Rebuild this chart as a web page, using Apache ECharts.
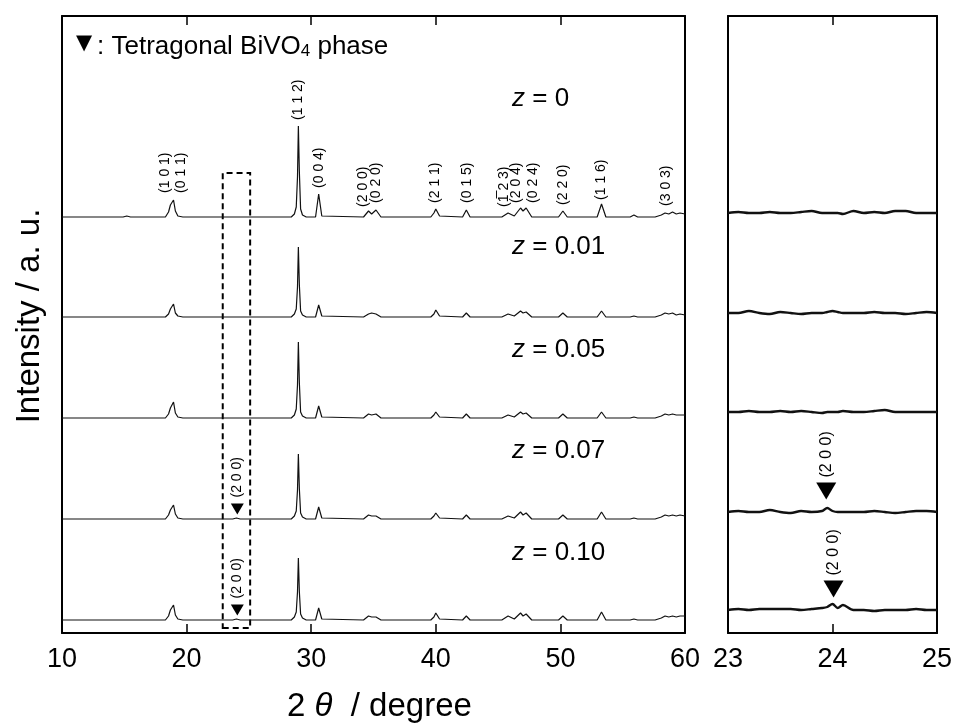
<!DOCTYPE html>
<html>
<head>
<meta charset="utf-8">
<script src="https://cdn.jsdelivr.net/npm/echarts@6/dist/echarts.min.js"></script>
<style>
  html, body { margin: 0; padding: 0; background: #fff; }
  #echarts { width: 957px; height: 727px; }
</style>
</head>
<body>
<div id="echarts"></div>
<script type="text/javascript">
// 2theta positions (deg) shared by the five wide-range patterns
var twoTheta = [10, 14.9, 15.2, 15.5, 18.3, 18.55, 18.7, 18.95, 19.1, 19.3,
  19.7, 23.7, 24.0, 24.3, 28.4, 28.65, 28.8, 28.9, 28.97, 29.05,
  29.15, 29.3, 29.6, 30.35, 30.6, 30.85, 34.2, 34.6, 34.85, 35.2,
  35.6, 39.6, 39.85, 40.0, 40.3, 42.15, 42.45, 42.75, 45.3, 45.8,
  46.3, 46.8, 47.0, 47.25, 47.7, 49.85, 50.2, 50.55, 52.95, 53.3,
  53.65, 55.6, 55.9, 56.2, 57.6, 58.1, 58.4, 58.7, 59.0, 59.3,
  59.6, 60.0];

// intensities (a.u.)
var int_z000 = [0, 0, 1, 0, 0, 5, 12, 17, 6, 1,
  0, 0, 0, 0, 0, 3, 10, 40, 91, 45,
  8, 2, 0, 0, 23, 1, 0, 6, 3, 7,
  0, 0, 4, 8, 1, 0, 7, 0, 0, 4,
  1, 9, 6, 9, 0, 0, 6, 0, 0, 13,
  0, 0, 2, 0, 0, 2, 4, 3, 5, 3,
  4, 3];
var int_z001 = [0, 0, 0, 0, 0, 3, 8, 13, 4, 1,
  0, 0, 0, 0, 0, 3, 8, 30, 70, 32,
  6, 2, 0, 0, 12, 1, 0, 3, 4, 3,
  0, 0, 3, 7, 1, 0, 4, 0, 0, 3,
  1, 6, 4, 5, 0, 0, 4, 0, 0, 6,
  0, 0, 1, 0, 0, 2, 4, 3, 4, 2,
  3, 2];
var int_z005 = [0, 0, 0, 0, 0, 4, 10, 16, 5, 1,
  0, 0, 0, 0, 0, 3, 9, 33, 76, 35,
  6, 2, 0, 0, 12, 1, 0, 4, 3, 4,
  0, 0, 3, 6, 1, 0, 4, 0, 0, 3,
  1, 6, 4, 5, 0, 0, 4, 0, 0, 6,
  0, 0, 1, 0, 0, 2, 4, 3, 4, 3,
  3, 3];
var int_z007 = [0, 0, 0, 0, 0, 4, 9, 14, 5, 1,
  0, 0, 1, 0, 0, 3, 8, 29, 65, 30,
  6, 2, 0, 0, 12, 1, 0, 4, 3, 3,
  0, 0, 3, 6, 1, 0, 4, 0, 0, 3,
  1, 7, 4, 6, 0, 0, 4, 0, 0, 7,
  0, 0, 1, 0, 0, 2, 4, 3, 4, 3,
  4, 3];
var int_z010 = [0, 0, 0, 0, 0, 4, 10, 15, 5, 1,
  0, 0, 1, 0, 0, 3, 8, 28, 62, 28,
  6, 2, 0, 0, 12, 1, 0, 4, 3, 3,
  0, 0, 3, 7, 1, 0, 4, 0, 0, 4,
  1, 7, 4, 6, 0, 0, 4, 0, 0, 8,
  0, 0, 1, 0, 0, 2, 4, 3, 4, 3,
  4, 4];

// zoomed 23-25 deg range
var twoThetaZoom = [23.0, 23.1, 23.2, 23.3, 23.4, 23.5, 23.6, 23.7, 23.8, 23.9,
  23.95, 24.0, 24.05, 24.1, 24.2, 24.3, 24.4, 24.5, 24.6, 24.7,
  24.8, 24.9, 25.0];
var zoom_z000 = [0, 1, 0, 0, 1, 0, 0, 1, 2, 0, 0, 0, 0, -1, 2, 0, 1, 0, 2, 2, 0, 0, 0];
var zoom_z001 = [0, 0, 2, 0, -1, 1, 0, -1, 0, 0, 1, 2, 1, 0, 0, 0, 1, 0, 0, -1, 0, 1, 0];
var zoom_z005 = [0, 0, 1, 0, 0, 1, 0, 1, 0, -1, 0, 0, 0, 1, 0, 0, 1, 2, 0, 0, 0, 0, 0];
var zoom_z007 = [0, 1, 0, 0, 2, 0, -1, 1, 0, 1, 4, 1, 0, 0, 0, 0, 1, 0, -1, 0, 1, 1, 0];
var zoom_z010 = [0, 1, 0, 1, 1, 1, 1, 0, 1, 2, 3, 6, 2, 5, 0, 0, -1, 0, 0, 0, 1, 0, 0];

var sampleZ = ['0', '0.01', '0.05', '0.07', '0.10'];

// Miller indices of the z = 0 pattern and where they sit
var hklText = ['(1 0 1)', '(0 1 1)', '(1 1 2)', '(0 0 4)', '(2 0 0)', '(0 2 0)', '(2 1 1)',
  '(0 1 5)', '(1\u0305 2 3)', '(2 0 4)', '(0 2 4)', '(2 2 0)', '(1 1 6)', '(3 0 3)'];
var hklTheta = [18.25, 19.6, 28.95, 30.6, 34.15, 35.2, 39.95, 42.5, 45.5, 46.45, 47.8, 50.2, 53.25, 58.5];
var hklLift = [24, 24, 97, 29, 10, 14, 14, 14, 10, 14, 14, 12, 17, 11];

// tetragonal (200) marks: sample index and angle
var tetraSample = [3, 4];
var tetraTheta = [24.07, 24.07];
var tetraThetaZoom = [23.94, 24.01];

var FONT = 'Liberation Sans, Arial, sans-serif';
var offsetsWide = [416, 316, 215, 114, 13];
var offsetsZoom = [420, 320, 221, 121, 23];
var wide = [int_z000, int_z001, int_z005, int_z007, int_z010];
var zoom = [zoom_z000, zoom_z001, zoom_z005, zoom_z007, zoom_z010];

var thechart = echarts.init(document.getElementById('echarts'));

function frameX(grid, min, max, interval, pos, labels) {
  return {
    type: 'value', gridIndex: grid, position: pos, min: min, max: max, interval: interval,
    axisLine: { show: true, onZero: false, lineStyle: { color: '#000', width: 2 } },
    axisTick: { show: true, inside: true, length: 9, lineStyle: { color: '#000', width: 1.5 } },
    axisLabel: { show: labels, color: '#000', fontSize: 27, fontFamily: FONT, margin: 13,
      showMinLabel: true, showMaxLabel: true },
    splitLine: { show: false }
  };
}
function frameY(grid, pos) {
  return {
    type: 'value', gridIndex: grid, position: pos, min: 0, max: 617,
    axisLine: { show: true, onZero: false, lineStyle: { color: '#000', width: 2 } },
    axisTick: { show: false }, axisLabel: { show: false }, splitLine: { show: false }
  };
}

var series = [];
for (var k = 0; k < 5; k++) {
  var d = [];
  for (var i = 0; i < twoTheta.length; i++) d.push([twoTheta[i], offsetsWide[k] + wide[k][i]]);
  series.push({ type: 'line', xAxisIndex: 0, yAxisIndex: 0, data: d, symbol: 'none', silent: true,
    lineStyle: { color: '#111', width: 1.2 }, z: 3 });
  var dz = [];
  for (var j = 0; j < twoThetaZoom.length; j++) dz.push([twoThetaZoom[j], offsetsZoom[k] + zoom[k][j]]);
  series.push({ type: 'line', xAxisIndex: 2, yAxisIndex: 2, data: dz, symbol: 'none', silent: true,
    smooth: 0.3, lineStyle: { color: '#111', width: 2.4 }, z: 3 });
}

// dashed box marking the zoomed range
series[0].markArea = {
  silent: true,
  itemStyle: { color: 'rgba(0,0,0,0)', borderColor: '#000', borderWidth: 2, borderType: [6, 4] },
  data: [[{ coord: [22.9, 5] }, { coord: [25.1, 460] }]]
};

// hkl labels
series.push({
  type: 'scatter', xAxisIndex: 0, yAxisIndex: 0, symbolSize: 0.1, silent: true,
  itemStyle: { color: 'rgba(0,0,0,0)', opacity: 1 },
  data: hklTheta.map(function (x, i) {
    return { value: [x, offsetsWide[0] + hklLift[i]], label: { formatter: hklText[i] } };
  }),
  label: { show: true, rotate: 90, position: 'top', distance: 0, align: 'left', verticalAlign: 'middle',
    fontSize: 14, color: '#000', opacity: 1, fontFamily: FONT }
});

// triangles (wide panel)
series.push({
  type: 'scatter', xAxisIndex: 0, yAxisIndex: 0, silent: true,
  symbol: 'path://M0,0L10,0L5,9Z', symbolSize: [13, 11], itemStyle: { color: '#000', opacity: 1 },
  data: tetraTheta.map(function (x, i) { return [x, offsetsWide[tetraSample[i]] + 10]; }),
  label: { show: true, formatter: '(2 0 0)', rotate: 90, position: 'top', distance: 6, align: 'left',
    verticalAlign: 'middle', fontSize: 14, color: '#000', opacity: 1, fontFamily: FONT }
});
// triangles (zoom panel)
series.push({
  type: 'scatter', xAxisIndex: 2, yAxisIndex: 2, silent: true,
  symbol: 'path://M0,0L10,0L5,9Z', symbolSize: [20, 17], itemStyle: { color: '#000', opacity: 1 },
  data: tetraThetaZoom.map(function (x, i) { return [x, offsetsZoom[tetraSample[i]] + 21]; }),
  label: { show: true, formatter: '(2 0 0)', rotate: 90, position: 'top', distance: 5, align: 'left',
    verticalAlign: 'middle', fontSize: 16, color: '#000', opacity: 1, fontFamily: FONT }
});

var zLabelY = [99, 247, 350, 451, 553];
var graphics = [
  { type: 'text', x: 30, y: 316, rotation: Math.PI / 2, silent: true,
    style: { text: 'Intensity / a. u.', fill: '#000', fontSize: 33, fontFamily: FONT,
      align: 'center', verticalAlign: 'middle' } },
  { type: 'text', x: 287, y: 707, silent: true,
    style: { text: '{n|2 }{t|\u03b8}{n|  / degree}', align: 'left', verticalAlign: 'middle',
      rich: { n: { fontSize: 33, fontFamily: FONT, fill: '#000' },
              t: { fontSize: 33, fontFamily: FONT, fontStyle: 'italic', fill: '#000' } } } },
  { type: 'text', x: 76, y: 44, silent: true,
    style: { text: '\u25bc', fill: '#000', fontSize: 21, fontFamily: 'DejaVu Sans',
      align: 'left', verticalAlign: 'middle' } },
  { type: 'text', x: 97, y: 45, silent: true,
    style: { text: '{t|: Tetragonal BiVO}{s|4}{t| phase}', align: 'left', verticalAlign: 'middle',
      rich: { t: { fontSize: 26, fontFamily: FONT, fill: '#000', lineHeight: 30, verticalAlign: 'bottom' },
              s: { fontSize: 17, fontFamily: FONT, fill: '#000', lineHeight: 18, verticalAlign: 'bottom' } } } }
];
for (var m = 0; m < 5; m++) {
  graphics.push({ type: 'text', x: 512, y: zLabelY[m], silent: true,
    style: { text: '{i|z}{n| = ' + sampleZ[m] + '}', align: 'left', verticalAlign: 'middle',
      rich: { i: { fontSize: 26, fontFamily: FONT, fontStyle: 'italic', fill: '#000' },
              n: { fontSize: 26, fontFamily: FONT, fill: '#000' } } } });
}

var theoption = {
  animation: false,
  backgroundColor: '#fff',
  grid: [
    { left: 62, top: 16, width: 623, height: 617 },
    { left: 728, top: 16, width: 209, height: 617 }
  ],
  xAxis: [
    frameX(0, 10, 60, 10, 'bottom', true),
    frameX(0, 10, 60, 10, 'top', false),
    frameX(1, 23, 25, 1, 'bottom', true),
    frameX(1, 23, 25, 1, 'top', false)
  ],
  yAxis: [frameY(0, 'left'), frameY(0, 'right'), frameY(1, 'left'), frameY(1, 'right')],
  series: series,
  graphic: graphics
};
thechart.setOption(theoption, true);
</script>
</body>
</html>
